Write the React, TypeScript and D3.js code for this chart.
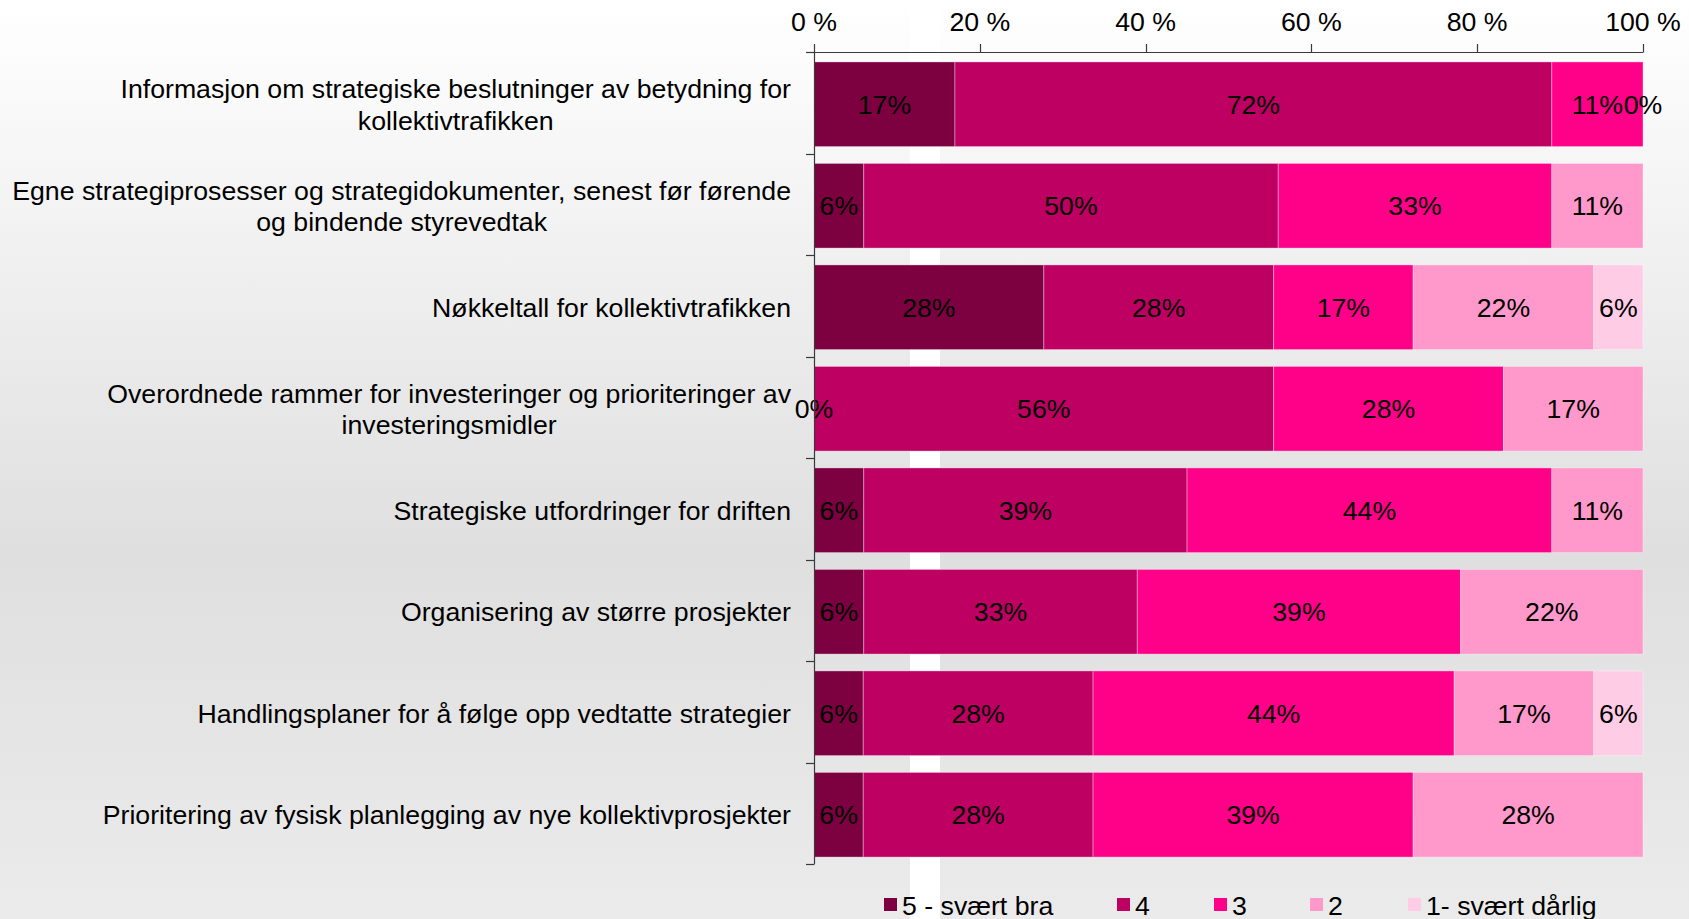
import React, { useEffect, useRef } from "react";
import * as d3 from "d3";

// ---------- data ----------
const categories: string[] = [
  "Informasjon om strategiske beslutninger av betydning for\nkollektivtrafikken",
  "Egne strategiprosesser og strategidokumenter, senest før førende\nog bindende styrevedtak",
  "Nøkkeltall for kollektivtrafikken",
  "Overordnede rammer for investeringer og prioriteringer av\ninvesteringsmidler",
  "Strategiske utfordringer for driften",
  "Organisering av større prosjekter",
  "Handlingsplaner for å følge opp vedtatte strategier",
  "Prioritering av fysisk planlegging av nye kollektivprosjekter",
];

const seriesNames: string[] = ["5 - svært bra", "4", "3", "2", "1- svært dårlig"];
const seriesColors: string[] = ["#7D0041", "#BE0063", "#FF0089", "#FF99CC", "#FFCCE5"];

// percentages per rating level (100 % stacked, normalised per row)
const s5: (number | null)[] = [17, 6, 28, 0, 6, 6, 6, 6];
const s4: (number | null)[] = [72, 50, 28, 56, 39, 33, 28, 28];
const s3: (number | null)[] = [11, 33, 17, 28, 44, 39, 44, 39];
const s2: (number | null)[] = [0, 11, 22, 17, 11, 22, 17, 28];
const s1: (number | null)[] = [null, null, 6, null, null, null, 6, null];

const xTicks: number[] = [0, 0.2, 0.4, 0.6, 0.8, 1];

// ---------- layout ----------
const W = 1689;
const H = 919;
const FONT = "'Liberation Sans', Arial, sans-serif";
const FS = 26.7;

export default function App() {
  const ref = useRef<SVGSVGElement | null>(null);

  useEffect(() => {
    const svg = d3.select(ref.current!);
    svg.selectAll("*").remove();

    const seriesData = [s5, s4, s3, s2, s1];
    const rows = categories.map((c, i) => {
      const o: any = { cat: c };
      seriesNames.forEach((k, j) => (o[k] = seriesData[j][i] ?? 0));
      return o;
    });
    const stacked = d3.stack<any>().keys(seriesNames).offset(d3.stackOffsetExpand)(rows);

    const x = d3.scaleLinear().domain([0, 1]).range([814, 1643]).clamp(true);
    const y = d3
      .scaleBand<string>()
      .domain(categories)
      .range([52, 864])
      .paddingInner(0.166)
      .paddingOuter(0.083);
    const barShift = 1.5;

    // background
    const defs = svg.append("defs");
    const g = defs
      .append("linearGradient")
      .attr("id", "bg")
      .attr("x1", 0)
      .attr("y1", 0)
      .attr("x2", 0)
      .attr("y2", 1);
    g.append("stop").attr("offset", 0).attr("stop-color", "#ffffff");
    g.append("stop").attr("offset", 0.06).attr("stop-color", "#fcfcfc");
    g.append("stop").attr("offset", 0.6).attr("stop-color", "#dfdfdf");
    g.append("stop").attr("offset", 1).attr("stop-color", "#ebebeb");
    svg.append("rect").attr("width", W).attr("height", H).attr("fill", "url(#bg)");
    svg.append("rect").attr("x", 910).attr("y", 0).attr("width", 30).attr("height", H).attr("fill", "#ffffff");

    // bars
    const layer = svg.append("g");
    stacked.forEach((s, j) => {
      layer
        .append("g")
        .selectAll("rect")
        .data(s)
        .join("rect")
        .attr("x", (d) => x(d[0]))
        .attr("y", (d) => y(d.data.cat)! + barShift)
        .attr("width", (d) => Math.max(0, x(d[1]) - x(d[0])))
        .attr("height", y.bandwidth())
        .attr("fill", seriesColors[j])
        .attr("stroke", "rgba(255,255,255,0.35)")
        .attr("stroke-width", 1);
    });

    // data labels
    stacked.forEach((s, j) => {
      const raw = seriesData[j];
      layer
        .append("g")
        .selectAll("text")
        .data(s.map((d, i) => ({ d, v: raw[i] })).filter((o) => o.v !== null))
        .join("text")
        .attr("x", (o) => (x(o.d[0]) + x(o.d[1])) / 2)
        .attr("y", (o) => y(o.d.data.cat)! + barShift + y.bandwidth() / 2)
        .attr("dy", "0.36em")
        .attr("text-anchor", "middle")
        .attr("font-family", FONT)
        .attr("font-size", FS)
        .attr("fill", "#000")
        .text((o) => `${o.v}%`);
    });

    // top axis
    const axisColor = "#3a3a3a";
    const ax = svg.append("g");
    ax.append("line")
      .attr("x1", 806)
      .attr("x2", x(1))
      .attr("y1", 52.5)
      .attr("y2", 52.5)
      .attr("stroke", axisColor)
      .attr("stroke-width", 1.2);
    ax.selectAll("line.tick")
      .data(xTicks)
      .join("line")
      .attr("class", "tick")
      .attr("x1", (d) => Math.round(x(d)) + 0.5)
      .attr("x2", (d) => Math.round(x(d)) + 0.5)
      .attr("y1", 44)
      .attr("y2", 52.5)
      .attr("stroke", axisColor)
      .attr("stroke-width", 1.2);
    ax.selectAll("text")
      .data(xTicks)
      .join("text")
      .attr("x", (d) => x(d))
      .attr("y", 31)
      .attr("text-anchor", "middle")
      .attr("font-family", FONT)
      .attr("font-size", FS)
      .attr("fill", "#000")
      .text((d) => `${Math.round(d * 100)} %`);

    // left axis
    const bounds = d3.range(categories.length + 1).map((i) => y.range()[0] + i * y.step());
    const ay = svg.append("g");
    ay.append("line")
      .attr("x1", 814.5)
      .attr("x2", 814.5)
      .attr("y1", 52)
      .attr("y2", 864)
      .attr("stroke", axisColor)
      .attr("stroke-width", 1.2);
    ay.selectAll("line.tick")
      .data(bounds)
      .join("line")
      .attr("class", "tick")
      .attr("x1", 806)
      .attr("x2", 814.5)
      .attr("y1", (d) => Math.round(d) + 0.5)
      .attr("y2", (d) => Math.round(d) + 0.5)
      .attr("stroke", axisColor)
      .attr("stroke-width", 1.2);

    // category labels
    const lh = 31.5;
    categories.forEach((c) => {
      const lines = c.split("\n");
      const t = svg
        .append("text")
        .attr("font-family", FONT)
        .attr("font-size", FS)
        .attr("fill", "#000")
        .attr("text-anchor", "middle");
      const cy = y(c)! + barShift + y.bandwidth() / 2;
      const spans = lines.map((ln, k) =>
        t
          .append("tspan")
          .attr("y", cy + (k - (lines.length - 1) / 2) * lh)
          .attr("dy", "0.36em")
          .text(ln)
      );
      const maxW = d3.max(spans, (s) => (s.node() as SVGTSpanElement).getComputedTextLength()) || 0;
      spans.forEach((s) => s.attr("x", 791 - maxW / 2));
    });

    // legend
    const legendX0 = 884;
    const legendWidths = [233, 97, 96, 98, 0];
    const lg = svg.append("g");
    let lx = legendX0;
    seriesNames.forEach((n, j) => {
      lg.append("rect")
        .attr("x", lx)
        .attr("y", 898)
        .attr("width", 13)
        .attr("height", 13)
        .attr("fill", seriesColors[j]);
      lg.append("text")
        .attr("x", lx + 18)
        .attr("y", 905)
        .attr("dy", "0.36em")
        .attr("font-family", FONT)
        .attr("font-size", FS)
        .attr("fill", "#000")
        .text(n);
      lx += legendWidths[j];
    });
  }, []);

  return (
    <svg
      ref={ref}
      width={W}
      height={H}
      style={{ position: "fixed", left: 0, top: 0, display: "block" }}
    />
  );
}
